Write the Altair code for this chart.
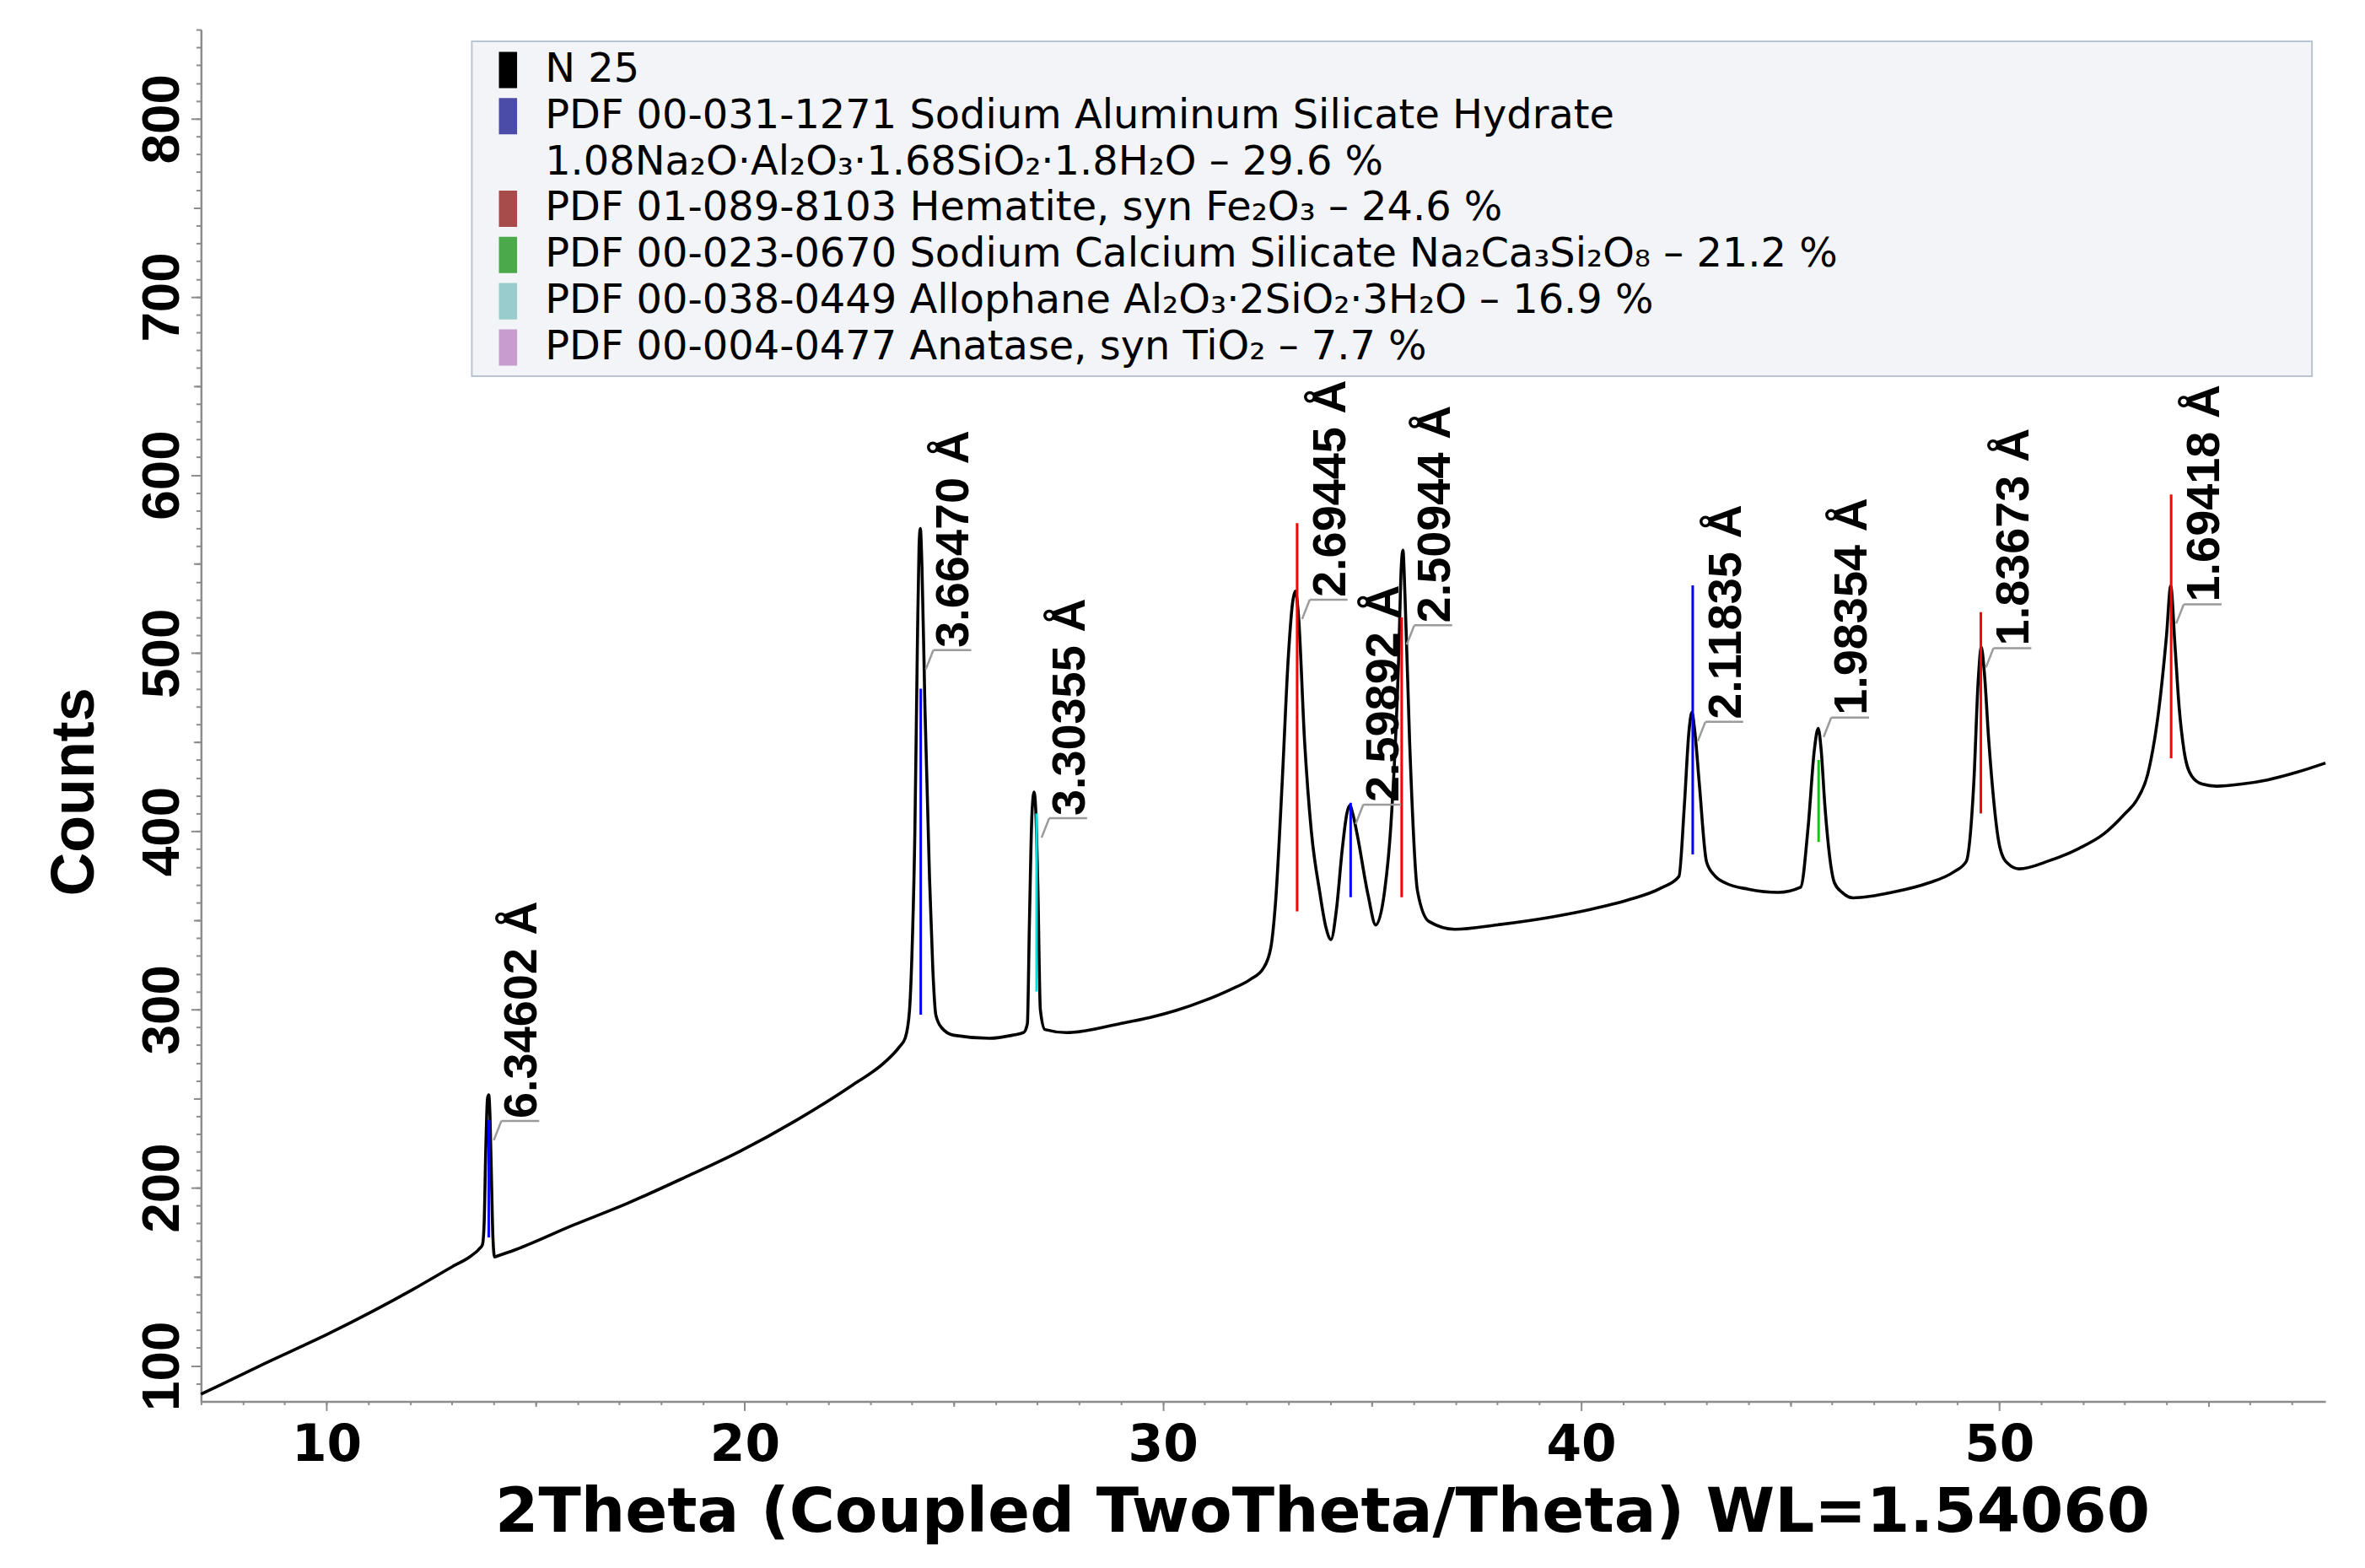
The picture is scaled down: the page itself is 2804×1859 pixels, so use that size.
import altair as alt
import pandas as pd

# ---------------- measured pattern (2Theta, Counts) ----------------
two_theta = [7.0, 8.5, 10.05, 12.08, 13.0, 13.45, 13.65, 13.73, 13.77, 13.81, 13.85, 13.88, 13.91, 13.95, 13.98,
             14.02, 14.08, 14.54, 15.88, 17.21, 18.55, 19.89, 21.23, 22.57, 23.37, 23.7, 23.84, 23.94,
             24.0, 24.07, 24.13, 24.17, 24.2, 24.24, 24.31, 24.42, 24.5, 24.57, 24.71, 25.0, 25.86,
             26.4, 26.67, 26.76, 26.81, 26.87, 26.92, 26.96, 27.01, 27.07, 27.18, 27.7, 28.97, 29.7, 30.33,
             31.0, 31.6, 32.1, 32.4, 32.58, 32.7, 32.85, 33.0, 33.1, 33.17, 33.24, 33.39, 33.55, 33.75,
             33.9, 34.02, 34.15, 34.29, 34.4, 34.47, 34.55, 34.65, 34.91, 35.09, 35.3, 35.45, 35.64,
             35.7, 35.74, 35.79, 35.9, 36.09, 36.36, 36.98, 38.0, 39.32, 40.2, 41.12, 41.9, 42.34,
             42.47, 42.58, 42.65, 42.72, 42.83, 43.0, 43.2, 43.46, 44.0, 44.71, 45.25, 45.43, 45.58,
             45.67, 45.74, 45.83, 46.06, 46.25, 46.51, 47.5, 48.31, 48.9, 49.21, 49.39, 49.5, 49.57,
             49.64, 49.75, 50.02, 50.2, 50.47, 51.2, 51.91, 52.5, 52.99, 53.3, 53.55, 53.85, 54.0,
             54.1, 54.2, 54.3, 54.42, 54.6, 54.85, 55.2, 55.8, 56.41, 57.1, 57.8]
counts = [84, 101, 118, 143, 155.5, 161.5, 165.5, 168, 180, 222, 250, 252, 240, 200, 172,
          161, 161.5, 165.3, 178.7, 191.3, 205.5, 220.4, 237.7, 257.4, 270.8, 279, 284, 299,
          331, 400, 505, 560, 570, 548, 470, 374, 322, 297, 289.7, 285.5, 283.8,
          285.5, 287, 292, 350, 410, 422, 412, 370, 300, 288.7, 287, 292, 295.5, 299.5,
          305, 311, 317, 323, 334.5, 362, 426, 498, 528, 534.8, 522, 450, 400, 366,
          346, 339.2, 356, 390, 410, 414.5, 409, 397.8, 363.8, 347.4, 366, 402.5, 498.7,
          548, 557.8, 532, 450.6, 366.3, 349.4, 345, 347.5, 352, 356, 361.4, 368, 374.6,
          414.5, 456, 466.7, 456, 426, 382.9, 375, 370.9, 367.5, 365.7, 368.6, 402.5, 446,
          457.8, 446, 414.5, 371, 365.5, 362.6, 366, 371, 377, 383, 426.6, 486, 503.3,
          490, 450.6, 390.4, 382, 378.9, 383.5, 390.4, 398.5, 409.5, 418, 432, 475, 510,
          537.6, 505, 470, 445, 431, 426.5, 425.3, 426.5, 428.8, 433, 438.3]

# ---------------- legend entries ----------------
legend_labels = [
    "N 25",
    "PDF 00-031-1271 Sodium Aluminum Silicate Hydrate",
    "1.08Na\u2082O\u00b7Al\u2082O\u2083\u00b71.68SiO\u2082\u00b71.8H\u2082O \u2013 29.6 %",
    "PDF 01-089-8103 Hematite, syn Fe\u2082O\u2083 \u2013 24.6 %",
    "PDF 00-023-0670 Sodium Calcium Silicate Na\u2082Ca\u2083Si\u2082O\u2088 \u2013 21.2 %",
    "PDF 00-038-0449 Allophane Al\u2082O\u2083\u00b72SiO\u2082\u00b73H\u2082O \u2013 16.9 %",
    "PDF 00-004-0477 Anatase, syn TiO\u2082 \u2013 7.7 %",
]
legend_colors = ["#000000", "#4b4ba8", "rgba(0,0,0,0)", "#a84b4b", "#4ba84b", "#99cccc", "#c89ccf"]

# ---------------- reference sticks ----------------
stick_pos = [13.88, 24.21, 26.98, 33.21, 34.49, 35.71, 42.67, 45.68, 49.56, 54.11]
stick_lo = [172, 297, 310, 355, 363, 363, 387, 394, 410, 441]
stick_hi = [238, 480, 410, 573, 416, 520, 538, 440, 523, 589]
stick_color = ["#0000ff", "#0000ff", "#00e0e0", "#ff0000", "#0000ff", "#ff0000",
               "#0000ff", "#00d000", "#ff0000", "#ff0000"]

# ---------------- peak d-spacing labels ----------------
label_text = ["6.34602 \u00c5", "3.66470 \u00c5", "3.30355 \u00c5", "2.69445 \u00c5", "2.59892 \u00c5",
              "2.50944 \u00c5", "2.11835 \u00c5", "1.98354 \u00c5", "1.83673 \u00c5", "1.69418 \u00c5"]
label_base = [237.4, 501.7, 407.3, 530, 414.9, 515.6, 461.4, 463.8, 502.8, 527.4]

curve_df = pd.DataFrame({"two_theta": two_theta, "counts": counts})
stick_df = pd.DataFrame({"pos": stick_pos, "lo": stick_lo, "hi": stick_hi, "bright": stick_color})
label_df = pd.DataFrame({"pos": stick_pos, "base": label_base, "text": label_text})
legend_df = pd.DataFrame({"entry": legend_labels})

BOLD = "Liberation Sans, Arial, sans-serif"
WIDE = "DejaVu Sans, Verdana, sans-serif"
AX = "#8c8c8c"

xs = alt.Scale(domain=[7, 57.8], nice=False, zero=False)
ys = alt.Scale(domain=[80, 850], nice=False, zero=False)

# main curve with labelled axes
curve = alt.Chart(curve_df).mark_line(color="black", strokeWidth=3.6, interpolate="monotone").encode(
    x=alt.X("two_theta:Q", scale=xs, axis=alt.Axis(
        orient="bottom", values=[10, 20, 30, 40, 50], format="d", grid=False,
        tickSize=11, tickWidth=2, tickColor=AX, domainColor=AX, domainWidth=2.5,
        labelFont=WIDE, labelFontSize=60, labelFontWeight="bold", labelColor="black",
        labelPadding=12, labelFlush=False, labelOverlap=False,
        title="2Theta (Coupled TwoTheta/Theta) WL=1.54060", titleFont=WIDE, titleFontSize=74,
        titleFontWeight="bold", titleColor="black", titleX=1333, titleY=155,
        titleBaseline="alphabetic", titleAlign="center")),
    y=alt.Y("counts:Q", scale=ys, axis=alt.Axis(
        orient="left", values=list(range(100, 801, 100)), format="d", grid=False,
        tickSize=12, tickWidth=2, tickColor=AX, domainColor=AX, domainWidth=2.5,
        labelFont=BOLD, labelFontSize=64, labelFontWeight="bold", labelColor="black",
        labelAngle=270, labelAlign="center", labelBaseline="alphabetic", labelPadding=15,
        labelFlush=False, labelOverlap=False,
        title="Counts", titleFont=BOLD, titleFontSize=72, titleFontWeight="bold",
        titleColor="black", titleAngle=270, titleX=-128, titleY=906,
        titleBaseline="alphabetic", titleAlign="center")),
)

# reference sticks (carry the minor ticks)
sticks = alt.Chart(stick_df).mark_rule(strokeWidth=3).encode(
    x=alt.X("pos:Q", scale=xs, axis=alt.Axis(
        orient="bottom", values=list(range(7, 58)), labels=False, domain=False, grid=False,
        tickSize=4, tickWidth=2, tickColor=AX, title=None)),
    y=alt.Y("lo:Q", scale=ys, axis=alt.Axis(
        orient="left", values=list(range(90, 851, 10)), labels=False, domain=False, grid=False,
        tickSize=6, tickWidth=2, tickColor=AX, title=None)),
    y2="hi:Q",
    color=alt.Color("bright:N", scale=None),
)

# phase legend (legend table drives the legend; the points themselves are not shown)
legend_layer = alt.Chart(legend_df).mark_point(filled=True, opacity=0, size=1).encode(
    color=alt.Color("entry:N", scale=alt.Scale(domain=legend_labels, range=legend_colors),
                    legend=alt.Legend(
                        orient="none", legendX=322, legendY=14, direction="vertical",
                        title="\u00a0", titleOrient="right", titlePadding=554, titleFontSize=10,
                        fillColor="#f2f4f7", strokeColor="#b9c4d3",
                        padding=10, rowPadding=7, cornerRadius=0,
                        labelFont=WIDE, labelFontSize=48, labelColor="black",
                        labelLimit=4000, labelOffset=20,
                        symbolType="M-0.45,-0.9H0.45V0.9H-0.45Z", symbolSize=2304,
                        symbolStrokeWidth=0, symbolOffset=9, symbolOpacity=1)),
)

# d-spacing labels (carry the medium ticks)
labels = alt.Chart(label_df).mark_text(
    angle=270, align="left", baseline="alphabetic", dx=3, dy=57,
    font=BOLD, fontSize=56, fontWeight="bold", color="black",
).encode(
    x=alt.X("pos:Q", scale=xs, axis=alt.Axis(
        orient="bottom", values=[15, 25, 35, 45, 55], labels=False, domain=False, grid=False,
        tickSize=6, tickWidth=2, tickColor=AX, title=None)),
    y=alt.Y("base:Q", scale=ys, axis=alt.Axis(
        orient="left", values=list(range(150, 800, 100)), labels=False, domain=False, grid=False,
        tickSize=9, tickWidth=2, tickColor=AX, title=None)),
    text="text:N",
)

# leader brackets
bracket_h = alt.Chart(label_df).mark_rule(color="#9a9a9a", strokeWidth=2.5, xOffset=15, x2Offset=60).encode(
    x=alt.X("pos:Q", scale=xs, axis=None),
    x2="pos:Q",
    y=alt.Y("base:Q", scale=ys, axis=None),
)
bracket_d = alt.Chart(label_df).mark_rule(color="#9a9a9a", strokeWidth=2.5,
                                          xOffset=6, x2Offset=15, yOffset=23, y2Offset=0).encode(
    x=alt.X("pos:Q", scale=xs, axis=None),
    x2="pos:Q",
    y=alt.Y("base:Q", scale=ys, axis=None),
    y2="base:Q",
)

chart = alt.layer(curve, sticks, bracket_h, bracket_d, labels, legend_layer).resolve_axis(
    x="independent", y="independent"
).properties(
    width=2526, height=1631,
    autosize=alt.AutoSizeParams(type="none"),
    padding={"left": 231, "top": 24.5, "right": 39, "bottom": 195},
    background="white",
).configure_view(stroke=None).configure_legend(strokeWidth=2)

chart.save("out.html", embed_options={"renderer": "svg", "actions": False})
